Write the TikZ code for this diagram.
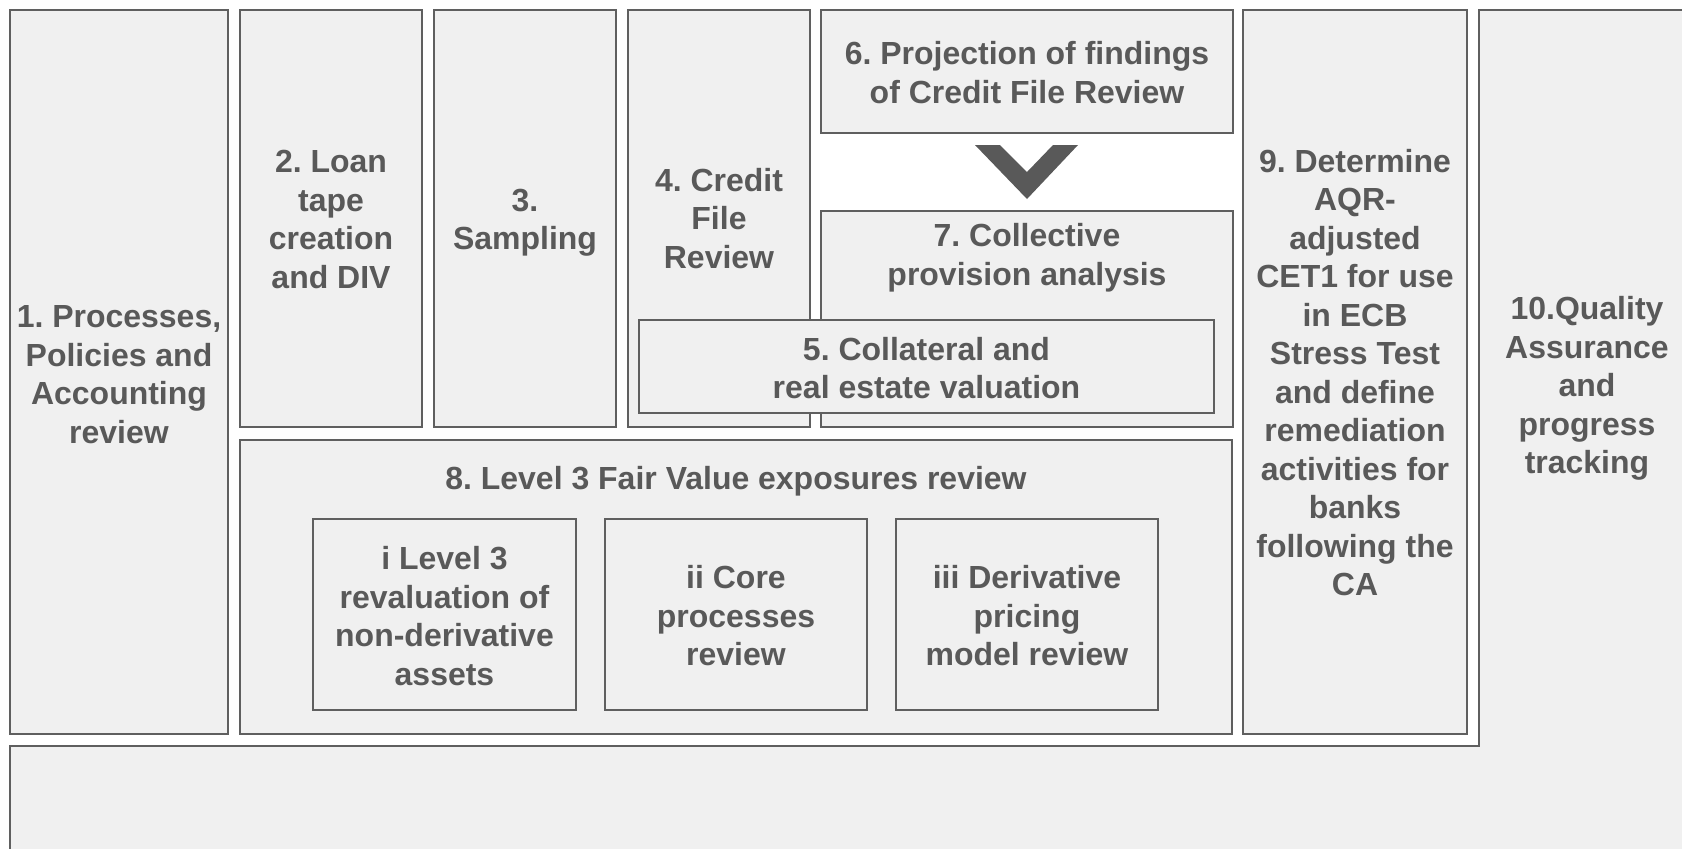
\documentclass[tikz,border=0pt]{standalone}
\usepackage{fontspec}
\setmainfont{Liberation Sans}
\usetikzlibrary{positioning}
\definecolor{boxfill}{HTML}{F0F0F0}
\definecolor{boxline}{HTML}{5F5F5F}
\definecolor{boxtext}{HTML}{595959}
\frenchspacing

\begin{document}
\begin{tikzpicture}[
  box/.style={draw=boxline, fill=boxfill, line width=0.6pt},
  lbl/.style={text=boxtext, font=\bfseries\fontsize{9.1}{10.95}\selectfont, align=center, inner sep=0pt, yshift=-0.25mm}]
 \clip (0,0) rectangle (16.82,-8.48);
 % 10: the L shaped frame behind everything
 \draw[box] (14.79,-0.10) -- (17,-0.10) -- (17,-8.7) -- (0.10,-8.7) -- (0.10,-7.46) -- (14.79,-7.46) -- cycle;
 \node[lbl] (qa) at (15.87,-3.86) {10.Quality\\Assurance\\and\\progress\\tracking};

 \draw[box] (0.10,-0.10) rectangle (2.28,-7.34);
 \node[lbl] (proc) at (1.19,-3.72) {1. Processes,\\Policies and\\Accounting\\review};
 \draw[box] (2.40,-0.10) rectangle (4.22,-4.27);
 \node[lbl] (tape) at (3.31,-2.17) {2. Loan\\tape\\creation\\and DIV};
 \draw[box] (4.34,-0.10) rectangle (6.16,-4.27);
 \node[lbl] (samp) at (5.25,-2.20) {3.\\Sampling};
 \draw[box] (6.28,-0.10) rectangle (8.10,-4.27);
 \node[lbl] (cfr) at (7.19,-2.16) {4. Credit\\File\\Review};

 \draw[box] (8.21,-0.10) rectangle (12.33,-1.33);
 \node[lbl] (proj) at (10.27,-0.70) {6. Projection of findings\\of Credit File Review};
 \fill[boxtext] (9.75,-1.45) -- (10.00,-1.45) -- (10.27,-1.72) -- (10.53,-1.45) -- (10.78,-1.45) -- (10.27,-1.99) -- cycle;
 \draw[box] (8.21,-2.11) rectangle (12.33,-4.27);
 \node[lbl] (coll) at (10.27,-2.55) {7. Collective\\provision analysis};
 % 5 sits over 4 and 7
 \draw[box] (6.39,-3.20) rectangle (12.14,-4.13);
 \node[lbl] (val) at (9.265,-3.655) {5. Collateral and\\real estate valuation};

 \draw[box] (2.40,-4.40) rectangle (12.32,-7.34);
 \node[lbl] (fv) at (7.36,-4.79) {8. Level 3 Fair Value exposures review};
 \draw[box] (3.13,-5.19) rectangle (5.76,-7.10);
 \node[lbl] (reval) at (4.445,-6.135) {i Level 3\\revaluation of\\non-derivative\\assets};
 \draw[box] (6.05,-5.19) rectangle (8.67,-7.10);
 \node[lbl] (core) at (7.36,-6.135) {ii Core\\processes\\review};
 \draw[box] (8.96,-5.19) rectangle (11.58,-7.10);
 \node[lbl] (deriv) at (10.27,-6.135) {iii Derivative\\pricing\\model review};

 \draw[box] (12.43,-0.10) rectangle (14.67,-7.34);
 \node[lbl] (cet) at (13.55,-3.70) {9. Determine\\AQR-\\adjusted\\CET1 for use\\in ECB\\Stress Test\\and define\\remediation\\activities for\\banks\\following the\\CA};
\end{tikzpicture}
\end{document}
